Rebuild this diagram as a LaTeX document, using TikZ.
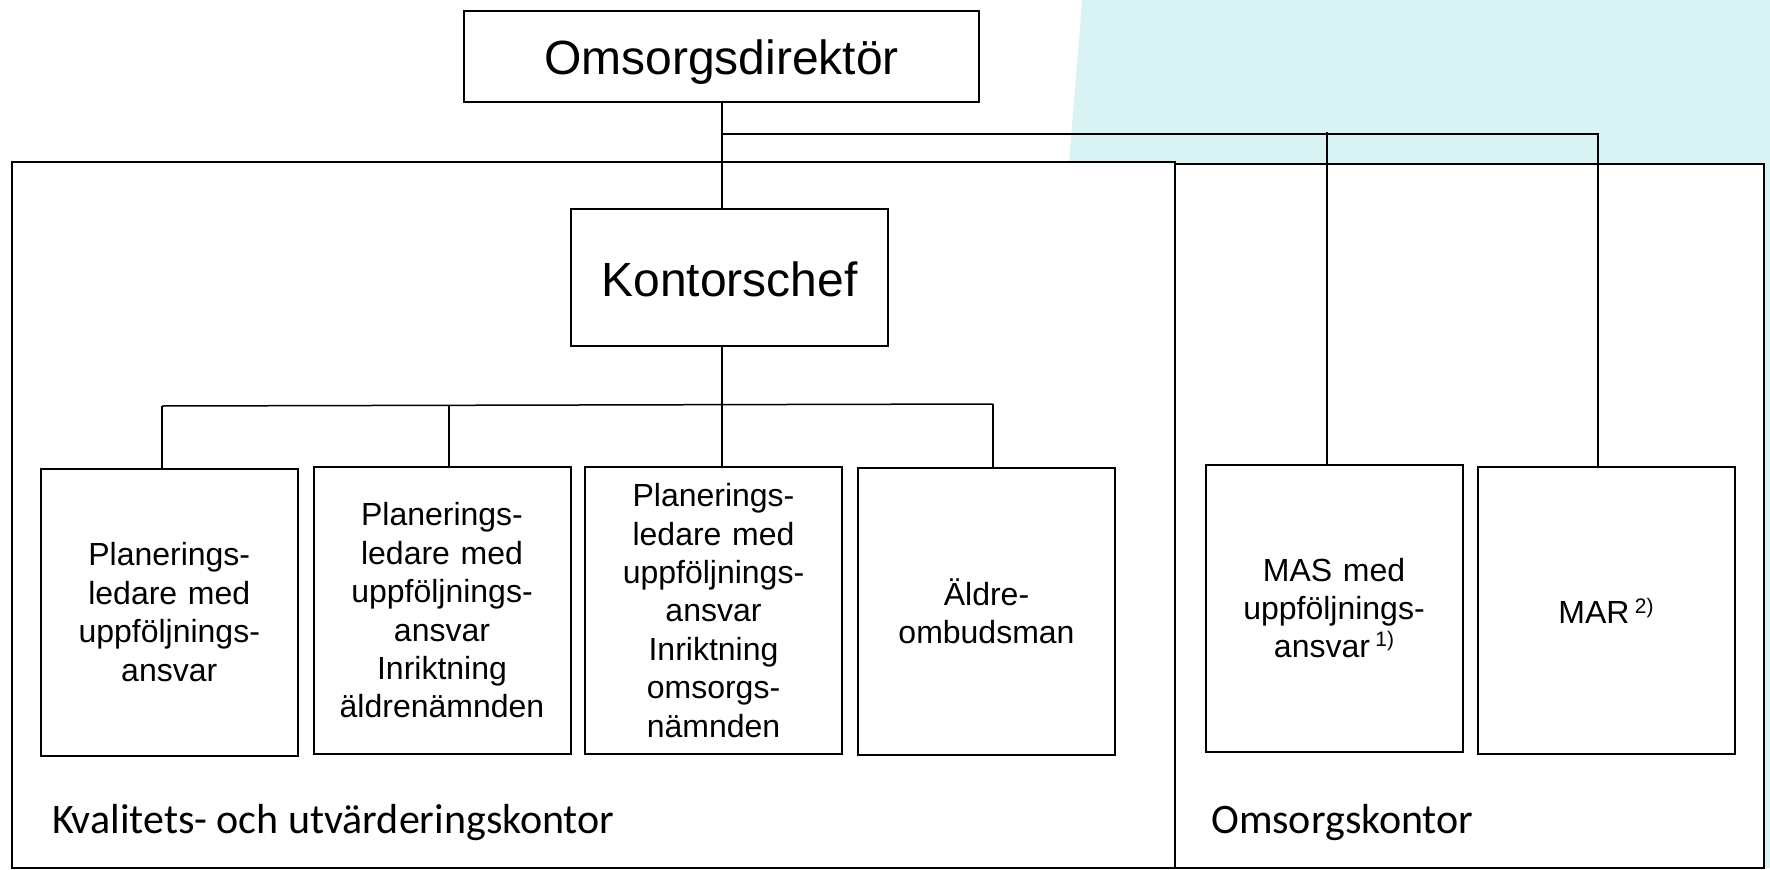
\documentclass[tikz,border=0pt]{standalone}
\usepackage{fontspec}
\setmainfont{Liberation Sans}
\newfontfamily\calib{Carlito}
\definecolor{bgblue}{RGB}{217,242,244}
\begin{document}
\begin{tikzpicture}[x=1pt,y=-1pt,
  box/.style={draw=black,line width=2pt,fill=white,inner sep=0pt,align=center,
    font=\fontsize{32}{38.4}\selectfont},
  smallbox/.style={box,minimum width=257pt,minimum height=287pt,text width=250pt},
  bigbox/.style={box,font=\fontsize{48}{57.6}\selectfont,text depth=0pt},
  conn/.style={line width=1.5pt},
  region/.style={line width=2pt,fill=white},
  lab/.style={anchor=base west,inner sep=0pt,font=\calib\fontsize{42}{50}\selectfont}]
\useasboundingbox (0,0) rectangle (1770,870);
% background
\fill[bgblue] (1082,0) .. controls (1077,70) and (1071,130) .. (1064,230) -- (1064,868) -- (1770,868) -- (1770,0) -- cycle;
% regions
\draw[region] (11.5,162) rectangle (1175,868);
\draw[region] (1175,164) rectangle (1764,868);
% nodes
\node[bigbox,minimum width=515pt,minimum height=91pt,text height=35pt] (dir) at (721.5,56.5) {Omsorgsdirektör};
\node[bigbox,minimum width=317pt,minimum height=137pt,text height=37pt] (kc) at (729.5,277.5) {Kontorschef};
\node[smallbox] (b1) at (169.25,612) {Planerings-\\ledare med\\uppföljnings-\\ansvar};
\node[smallbox] (b2) at (442,610.5) {Planerings-\\ledare med\\uppföljnings-\\ansvar\\Inriktning\\äldrenämnden};
\node[smallbox] (b3) at (713.5,610.5) {Planerings-\\ledare med\\uppföljnings-\\ansvar\\Inriktning\\omsorgs-\\nämnden};
\node[smallbox] (b4) at (986.5,611) {Äldre-\\ombudsman};
\node[smallbox] (mas) at (1334,608) {MAS med\\uppföljnings-\\ansvar\,{\fontsize{21}{21}\selectfont\raisebox{11pt}{1)}}};
\node[smallbox] (mar) at (1606,610.5) {MAR\,{\fontsize{21}{21}\selectfont\raisebox{10pt}{2)}}};
% labels
\node[lab] (lk) at (52,833) {Kvalitets- och utvärderingskontor};
\node[lab] (lo) at (1211,833) {Omsorgskontor};
% junctions
\coordinate (j0) at (722,134);
\coordinate (jmas) at (1327,134);
\coordinate (jmar) at (1598,134);
\coordinate (k1) at (162,406);
\coordinate (k2) at (449,405.3);
\coordinate (k3) at (722,404.7);
\coordinate (k4) at (993,404);
% connectors
\draw[conn] (dir.south -| j0) -- (kc.north -| j0);
\draw[conn] (j0) -- (jmar) -- (mar.north -| jmar);
\draw[conn] (jmas) ++(0,-2) -- (mas.north -| jmas);
\draw[conn] (kc.south -| k3) -- (b3.north -| k3);
\draw[conn] (k1) -- (k4);
\draw[conn] (k1) -- (b1.north -| k1);
\draw[conn] (k2) -- (b2.north -| k2);
\draw[conn] (k4) -- (b4.north -| k4);
\end{tikzpicture}
\end{document}
